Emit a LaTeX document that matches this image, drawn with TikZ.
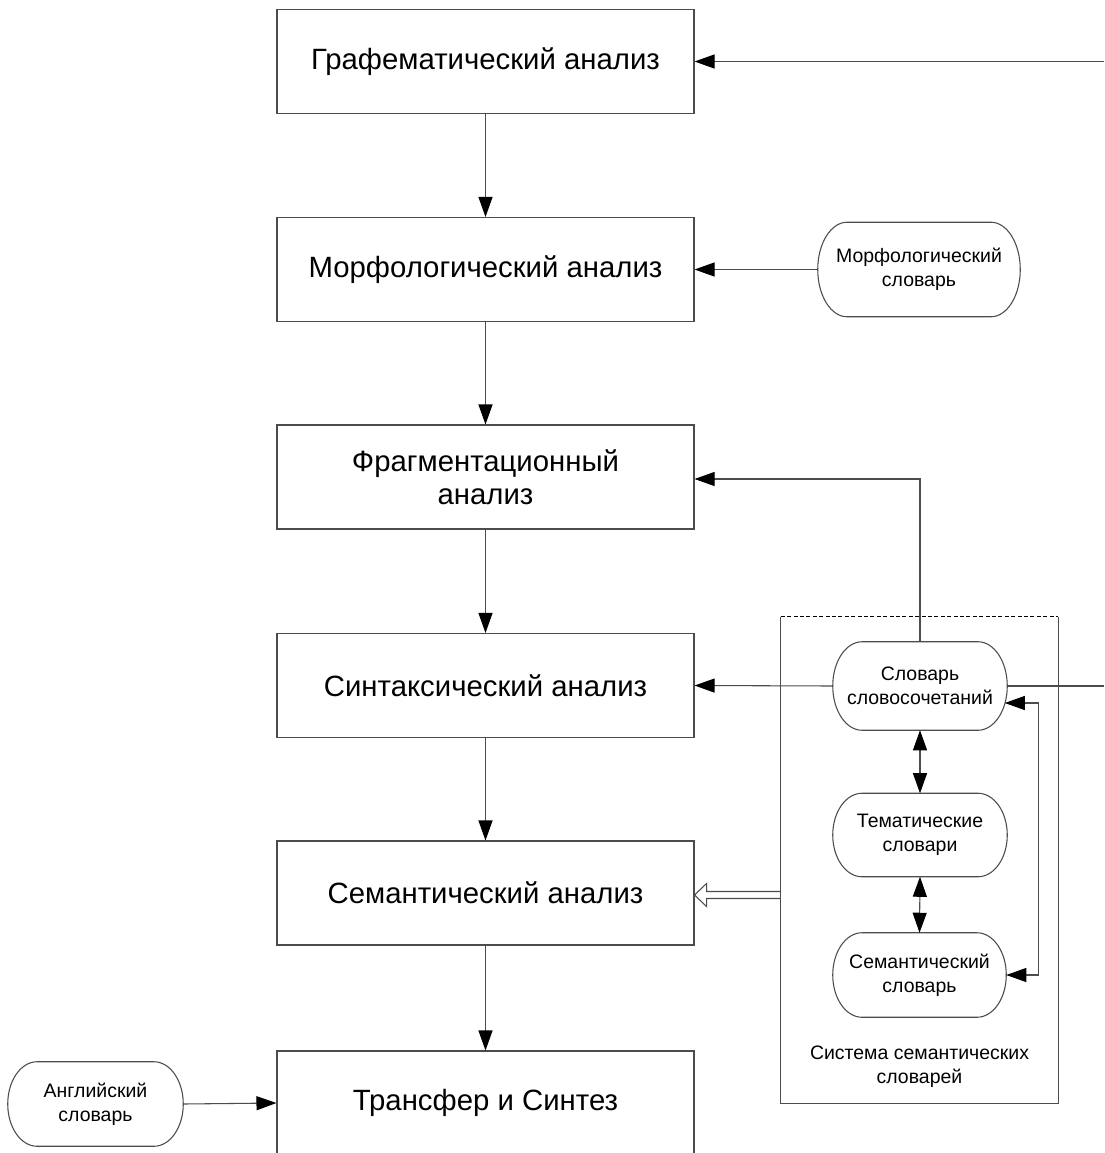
\documentclass[tikz,border=0pt]{standalone}
\usepackage{fontspec}
\setmainfont{Liberation Sans}
\usetikzlibrary{arrows.meta,calc}
\newcommand\pxu{0.75pt}
\newcommand\bigfont{\fontsize{22pt}{25pt}\selectfont}
\newcommand\smallfont{\fontsize{14.6pt}{18pt}\selectfont}
\definecolor{linecol}{gray}{0.3}
\tikzset{
  lnw/.style={line width=0.8pt, draw=linecol},
  procbox/.style={lnw, minimum width=417*\pxu, minimum height=104*\pxu, inner sep=0pt, align=center, font=\bigfont},
  dictnode/.style={inner sep=0pt, align=center, font=\smallfont},
  arr/.style={lnw, -{Triangle[length=15pt, width=10.5pt, color=black]}},
  dblarr/.style={lnw, {Triangle[length=15pt, width=10.5pt, color=black]}-{Triangle[length=15pt, width=10.5pt, color=black]}},
}
\newcommand\termdraw[1]{%
  \draw[lnw] let \p1=(#1.north east), \p2=(#1.south west), \n1={(\y1-\y2)/2} in
    ([xshift=22pt]#1.north west) -- ([xshift=-22pt]#1.north east)
    arc[start angle=90, end angle=-90, x radius=22pt, y radius=\n1]
    -- ([xshift=22pt]#1.south west)
    arc[start angle=270, end angle=90, x radius=22pt, y radius=\n1] -- cycle;}
\begin{document}
\begin{tikzpicture}[x=0.75pt, y=-0.75pt]
\fill[white] (0,0) rectangle (1104,1153);
\useasboundingbox (0,0) rectangle (1104,1153);

% main process boxes
\node[procbox] (g)  at (485.5,61.5)  {Графематический анализ};
\node[procbox] (m)  at (485.5,269.5) {Морфологический анализ};
\node[procbox] (f)  at (485.5,477)   {Фрагментационный\\анализ};
\node[procbox] (s)  at (485.5,685.5) {Синтаксический анализ};
\node[procbox] (se) at (485.5,893)   {Семантический анализ};
\node[procbox] (t)  at (485.5,1103)  {Трансфер и Синтез};

% system of semantic dictionaries
\node[minimum width=277*\pxu, minimum height=486*\pxu, inner sep=0pt] (sys) at (919.5,860) {};
\draw[lnw] (sys.north west) -- (sys.south west) -- (sys.south east) -- (sys.north east);
\draw[line width=1pt, black, dash pattern=on 3pt off 1.8pt] (sys.north west) -- (sys.north east);
\node[dictnode] (syslbl) at (919.5,1067) {Система семантических\\словарей};

% dictionaries
\node[dictnode, minimum width=202*\pxu, minimum height=94*\pxu] (md) at (919,269.5) {Морфологический\\словарь};
\node[dictnode, minimum width=174*\pxu, minimum height=88*\pxu] (sc) at (920,686) {Словарь\\словосочетаний};
\node[dictnode, minimum width=174*\pxu, minimum height=83*\pxu] (td) at (920,835) {Тематические\\словари};
\node[dictnode, minimum width=173*\pxu, minimum height=84*\pxu] (sd) at (919.5,975) {Семантический\\словарь};
\node[dictnode, minimum width=175*\pxu, minimum height=84*\pxu] (ed) at (95.5,1104) {Английский\\словарь};
\termdraw{md}
\termdraw{sc}
\termdraw{td}
\termdraw{sd}
\termdraw{ed}

% free ends
\coordinate (topin) at (1104,61.5);
\coordinate (rightout) at (1104,686);

% connectors
\draw[arr] (topin) -- (g.east);
\draw[arr] (g.south) -- (m.north);
\draw[arr] (m.south) -- (f.north);
\draw[arr] (f.south) -- (s.north);
\draw[arr] (s.south) -- (se.north);
\draw[arr] (se.south) -- (t.north);
\draw[arr] (md.west) -- (m.east);
\draw[arr] (sc.north) |- ([yshift=-2*\pxu]f.east);
\draw[arr] (sc.west) -- (s.east);
\draw[lnw] (sc.east) -- (rightout);
\draw[dblarr] (sc.south) -- (td.north);
\draw[dblarr] (td.south) -- (sd.north);
\draw[dblarr] ([xshift=-2.5*\pxu, yshift=-17*\pxu]sc.east) -- ++(34,0) |- (sd.east);
\draw[arr] (ed.east) -- (t.west);

% hollow (double-line) arrow from the dictionary system to semantic analysis
\coordinate (hb) at ([yshift=-2*\pxu]se.east);
\coordinate (ha) at (sys.west |- hb);
\draw[lnw, line join=miter] ([yshift=3.5*\pxu]ha) -- ([xshift=12*\pxu, yshift=3.5*\pxu]hb)
  -- ([xshift=12*\pxu, yshift=11.5*\pxu]hb) -- (hb)
  -- ([xshift=12*\pxu, yshift=-11.5*\pxu]hb) -- ([xshift=12*\pxu, yshift=-3.5*\pxu]hb)
  -- ([yshift=-3.5*\pxu]ha);
\end{tikzpicture}
\end{document}
